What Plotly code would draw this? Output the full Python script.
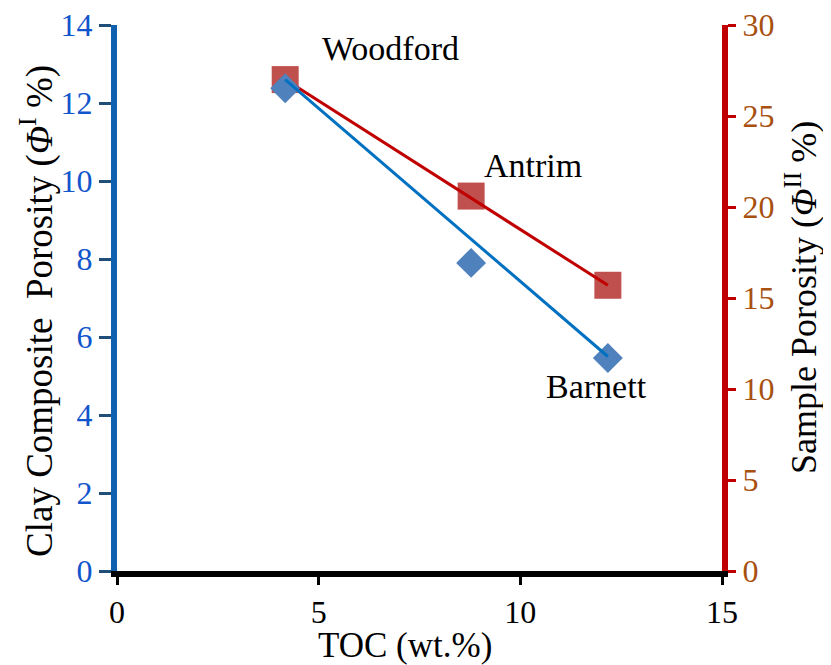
import plotly.graph_objects as go

formations = ["Woodford", "Antrim", "Barnett"]
toc = [4.17, 8.78, 12.17]
clay_porosity = [12.38, 7.9, 5.46]
sample_porosity = [27.0, 20.6, 15.7]
trend_x = [4.17, 12.17]
trend_clay = [12.6, 5.5]
trend_sample = [27.0, 15.7]
label_x = [6.77, 10.32, 11.9]
label_y = [13.41, 10.41, 4.72]
x_ticks = [0, 5, 10, 15]
left_ticks = [0, 2, 4, 6, 8, 10, 12, 14]
right_ticks = [0, 5, 10, 15, 20, 25, 30]

FONT = "Times New Roman, Liberation Serif, serif"
TICK = 32
fig = go.Figure()

# Sample porosity (right axis) - primary y
fig.add_trace(go.Scatter(x=toc, y=sample_porosity, mode="markers",
                         marker=dict(symbol="square", size=27, color="#C0504D"),
                         yaxis="y", showlegend=False))
fig.add_trace(go.Scatter(x=trend_x, y=trend_sample, mode="lines",
                         line=dict(color="#C00000", width=3),
                         yaxis="y", showlegend=False))
# Clay composite porosity (left axis) - overlaying y2
fig.add_trace(go.Scatter(x=toc, y=clay_porosity, mode="markers",
                         marker=dict(symbol="diamond", size=23, color="#4F81BD"),
                         yaxis="y2", showlegend=False))
fig.add_trace(go.Scatter(x=trend_x, y=trend_clay, mode="lines",
                         line=dict(color="#0070C0", width=3),
                         yaxis="y2", showlegend=False))

for name, lx, ly in zip(formations, label_x, label_y):
    fig.add_annotation(x=lx, y=ly, xref="x", yref="y2", text=name, showarrow=False,
                       font=dict(family=FONT, size=34, color="black"))

# axis titles
fig.add_annotation(x=0.476, y=0, xref="paper", yref="paper", yanchor="top",
                   yshift=-53, text="TOC (wt.%)", showarrow=False,
                   font=dict(family=FONT, size=35, color="black"))
fig.add_annotation(x=0, y=0.5, xref="paper", yref="paper", xanchor="center", yanchor="middle",
                   xshift=-80, yshift=-13, textangle=-90,
                   text="Clay Composite  Porosity (<i>Φ</i><sup>I</sup> %)", showarrow=False,
                   font=dict(family=FONT, size=37, color="black"))
fig.add_annotation(x=1, y=0.5, xref="paper", yref="paper", xanchor="center", yanchor="middle",
                   xshift=79, yshift=0, textangle=-90,
                   text="Sample Porosity (<i>Φ</i><sup>II</sup> %)", showarrow=False,
                   font=dict(family=FONT, size=36, color="black"))

fig.update_layout(
    width=823, height=657,
    margin=dict(l=109, r=109, t=17, b=94, autoexpand=False),
    paper_bgcolor="white", plot_bgcolor="white",
    font=dict(family=FONT, size=TICK),
    xaxis=dict(range=[0, 15], tickvals=x_ticks, showgrid=False, zeroline=False,
               showline=True, linecolor="black", linewidth=6, automargin=False,
               ticks="outside", ticklen=8, tickwidth=3, tickcolor="black",
               ticklabeloverflow="allow",
               tickfont=dict(family=FONT, size=TICK, color="black")),
    yaxis=dict(range=[0, 30], tickvals=right_ticks, side="right", showgrid=False, zeroline=False,
               showline=True, linecolor="#C00000", linewidth=6, automargin=False,
               ticks="outside", ticklen=8, tickwidth=3, tickcolor="#C00000",
               ticklabeloverflow="allow",
               tickfont=dict(family=FONT, size=TICK, color="#A8500F")),
    yaxis2=dict(range=[0, 14], tickvals=left_ticks, side="left", overlaying="y",
                showgrid=False, zeroline=False, automargin=False,
                showline=True, linecolor="#1060B0", linewidth=6,
                ticks="outside", ticklen=12, tickwidth=3, tickcolor="#1F4E79",
                ticklabeloverflow="allow",
                tickfont=dict(family=FONT, size=TICK, color="#1155CC")),
)

fig.write_html("out.html")
